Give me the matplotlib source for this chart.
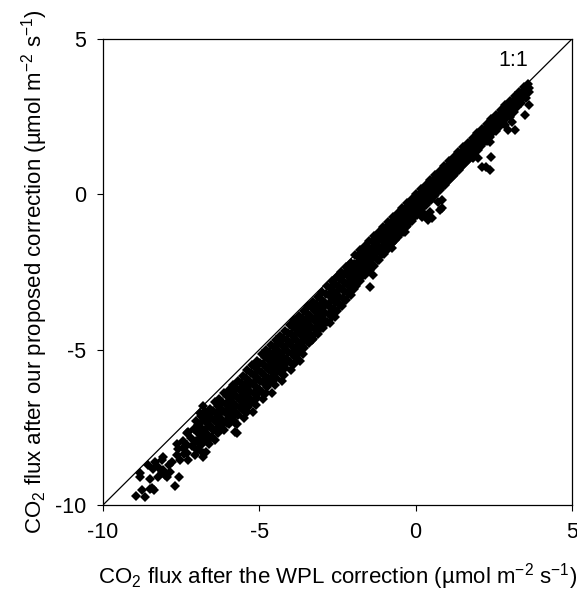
import matplotlib
matplotlib.use("Agg")
import matplotlib.pyplot as plt

plt.rcParams['font.family'] = ['Liberation Sans', 'DejaVu Sans']
plt.rcParams['mathtext.fontset'] = 'custom'
plt.rcParams['mathtext.rm'] = 'Liberation Sans'
plt.rcParams['mathtext.it'] = 'Liberation Sans:italic'
plt.rcParams['axes.unicode_minus'] = False

# sparse tail at the low end (x = WPL flux, y = proposed correction)
tail = [
    (-8.94, -9.70), (-8.66, -9.75), (-8.76, -9.52), (-8.44, -9.46), (-8.36, -9.52),
    (-8.50, -9.17), (-8.82, -9.09), (-8.82, -8.98), (-8.55, -8.71), (-8.39, -8.85),
    (-8.12, -8.93), (-8.02, -9.03), (-7.86, -8.93), (-7.70, -9.39), (-7.56, -9.11),
    (-8.12, -8.55), (-8.07, -8.46), (-7.64, -8.04), (-7.32, -7.67), (-6.95, -7.42),
    (-6.90, -7.05), (-6.81, -6.81), (-6.79, -8.31), (-8.34, -8.60), (-8.23, -8.77),
    (-8.07, -8.87), (-7.80, -8.60), (-7.64, -8.39), (-7.54, -8.55), (-7.43, -8.17),
    (-7.32, -8.07), (-7.27, -7.64), (-7.32, -8.34), (-7.27, -8.55), (-7.00, -8.23),
    (-6.79, -8.44), (-6.79, -7.10), (-7.96, -9.09), (-8.50, -9.49), (-7.45, -7.95),
    (-7.40, -8.35), (-7.20, -7.85), (-7.15, -8.10), (-7.10, -7.55), (-7.05, -8.40),
    (-7.60, -8.20), (-7.90, -8.70), (-8.25, -9.10),
]

lower_band = [
    (-7.03, -7.30), (-6.98, -7.65), (-7.01, -7.95), (-6.97, -8.20),
    (-6.88, -7.15), (-6.83, -7.55), (-6.86, -7.80), (-6.82, -8.05),
    (-6.73, -7.00), (-6.68, -7.35), (-6.71, -7.70), (-6.67, -7.95), (-6.72, -8.30),
    (-6.58, -6.90), (-6.53, -7.20), (-6.56, -7.50), (-6.52, -7.80),
    (-6.43, -6.70), (-6.38, -7.05), (-6.41, -7.30), (-6.37, -7.60), (-6.42, -7.90),
    (-6.28, -6.60), (-6.23, -6.90), (-6.26, -7.20), (-6.22, -7.45),
    (-6.13, -6.40), (-6.08, -6.75), (-6.11, -7.00), (-6.07, -7.30), (-6.12, -7.60),
    (-5.98, -6.30), (-5.93, -6.60), (-5.96, -6.90), (-5.92, -7.15), (-5.97, -7.40),
    (-5.83, -6.15), (-5.78, -6.45), (-5.81, -6.75), (-5.77, -7.00), (-5.82, -7.30), (-5.79, -7.65),
    (-5.68, -6.00), (-5.63, -6.30), (-5.66, -6.60), (-5.62, -6.85), (-5.67, -7.10),
    (-5.53, -5.85), (-5.48, -6.15), (-5.51, -6.45), (-5.47, -6.70), (-5.52, -6.95), (-5.49, -7.20),
    (-5.38, -5.65), (-5.33, -6.00), (-5.36, -6.30), (-5.32, -6.55), (-5.37, -6.85),
    (-5.23, -5.50), (-5.18, -5.80), (-5.21, -6.10), (-5.17, -6.40), (-5.22, -6.70), (-5.19, -7.00),
    (-5.08, -5.35), (-5.03, -5.65), (-5.06, -5.95), (-5.02, -6.25), (-5.07, -6.55),
]

lower_band_fill = [
    (-6.93, -7.40), (-6.91, -7.72), (-6.94, -8.00),
    (-6.78, -7.27), (-6.76, -7.60), (-6.79, -7.85),
    (-6.63, -7.10), (-6.61, -7.45), (-6.64, -7.75), (-6.62, -8.05),
    (-6.48, -6.97), (-6.46, -7.27), (-6.49, -7.57),
    (-6.33, -6.80), (-6.31, -7.10), (-6.34, -7.37), (-6.32, -7.67),
    (-6.18, -6.67), (-6.16, -6.97), (-6.19, -7.25),
    (-6.03, -6.50), (-6.01, -6.80), (-6.04, -7.07), (-6.02, -7.37),
    (-5.88, -6.37), (-5.86, -6.67), (-5.89, -6.95), (-5.87, -7.20),
    (-5.73, -6.22), (-5.71, -6.52), (-5.74, -6.80), (-5.72, -7.07), (-5.70, -7.40),
    (-5.58, -6.07), (-5.56, -6.37), (-5.59, -6.65), (-5.57, -6.90),
    (-5.43, -5.92), (-5.41, -6.22), (-5.44, -6.50), (-5.42, -6.75), (-5.40, -7.00),
    (-5.28, -5.75), (-5.26, -6.07), (-5.29, -6.35), (-5.27, -6.62),
    (-5.13, -5.57), (-5.11, -5.87), (-5.14, -6.17), (-5.12, -6.47), (-5.10, -6.77),
    (-4.98, -5.42), (-4.96, -5.72), (-4.99, -6.02), (-4.97, -6.32),
]

middle_band = [
    (-4.93, -5.15), (-4.88, -5.45), (-4.91, -5.75), (-4.87, -6.05), (-4.92, -6.35), (-4.89, -6.60),
    (-4.78, -5.00), (-4.73, -5.30), (-4.76, -5.60), (-4.72, -5.90), (-4.77, -6.20),
    (-4.63, -4.85), (-4.58, -5.15), (-4.61, -5.45), (-4.57, -5.75), (-4.62, -6.05), (-4.59, -6.40),
    (-4.48, -4.70), (-4.43, -5.00), (-4.46, -5.30), (-4.42, -5.60), (-4.47, -5.90),
    (-4.33, -4.55), (-4.28, -4.85), (-4.31, -5.15), (-4.27, -5.45), (-4.32, -5.75), (-4.29, -6.00),
    (-4.18, -4.40), (-4.13, -4.70), (-4.16, -5.00), (-4.12, -5.30), (-4.17, -5.60),
    (-4.03, -4.20), (-3.98, -4.50), (-4.01, -4.80), (-3.97, -5.10), (-4.02, -5.40), (-3.99, -5.65),
    (-3.88, -4.05), (-3.83, -4.35), (-3.86, -4.65), (-3.82, -4.95), (-3.87, -5.25),
    (-3.73, -3.90), (-3.68, -4.20), (-3.71, -4.50), (-3.67, -4.80), (-3.72, -5.10), (-3.69, -5.35),
    (-3.58, -3.75), (-3.53, -4.05), (-3.56, -4.35), (-3.52, -4.65), (-3.57, -4.95),
    (-3.43, -3.60), (-3.38, -3.90), (-3.41, -4.20), (-3.37, -4.50), (-3.42, -4.80),
    (-3.28, -3.45), (-3.23, -3.75), (-3.26, -4.05), (-3.22, -4.35), (-3.27, -4.65),
    (-3.13, -3.30), (-3.08, -3.60), (-3.11, -3.90), (-3.07, -4.20), (-3.12, -4.50),
    (-2.98, -3.15), (-2.93, -3.45), (-2.96, -3.75), (-2.92, -4.05), (-2.97, -4.30),
    (-2.83, -2.95), (-2.78, -3.25), (-2.81, -3.55), (-2.77, -3.85), (-2.82, -4.10),
    (-2.68, -2.80), (-2.63, -3.10), (-2.66, -3.40), (-2.62, -3.70), (-2.67, -3.95),
    (-2.53, -2.65), (-2.48, -2.95), (-2.51, -3.25), (-2.47, -3.50), (-2.52, -3.75),
    (-2.38, -2.50), (-2.33, -2.80), (-2.36, -3.05), (-2.32, -3.35), (-2.37, -3.60),
    (-2.23, -2.35), (-2.18, -2.60), (-2.21, -2.90), (-2.17, -3.15), (-2.22, -3.40),
    (-2.08, -2.20), (-2.03, -2.45), (-2.06, -2.75), (-2.02, -3.00), (-2.07, -3.25),
    (-1.93, -1.95), (-1.88, -2.20), (-1.91, -2.45), (-1.87, -2.70), (-1.92, -2.95),
    (-1.78, -1.80), (-1.73, -2.05), (-1.76, -2.30), (-1.72, -2.55), (-1.77, -2.80),
    (-1.63, -1.65), (-1.58, -1.90), (-1.61, -2.15), (-1.57, -2.40), (-1.62, -2.60),
    (-1.48, -1.50), (-1.43, -1.75), (-1.46, -2.00), (-1.42, -2.25), (-1.47, -2.45),
    (-1.33, -1.35), (-1.28, -1.60), (-1.31, -1.85), (-1.27, -2.05), (-1.32, -2.30),
    (-1.18, -1.20), (-1.13, -1.45), (-1.16, -1.70), (-1.12, -1.90), (-1.17, -2.10),
    (-1.03, -1.05), (-0.98, -1.28), (-1.01, -1.50), (-0.97, -1.72), (-1.02, -1.92),
    (-0.88, -0.90), (-0.83, -1.12), (-0.86, -1.33), (-0.82, -1.55), (-0.87, -1.75),
    (-0.73, -0.74), (-0.68, -0.95), (-0.71, -1.16), (-0.67, -1.37), (-0.72, -1.55),
    (-0.58, -0.59), (-0.53, -0.80), (-0.56, -1.00), (-0.52, -1.20), (-0.57, -1.38),
    (-0.43, -0.44), (-0.38, -0.64), (-0.41, -0.84), (-0.37, -1.03), (-0.42, -1.20),
    (-0.28, -0.29), (-0.23, -0.48), (-0.26, -0.68), (-0.22, -0.86), (-0.27, -1.02),
    (-0.13, -0.14), (-0.08, -0.33), (-0.11, -0.52), (-0.07, -0.70), (-0.12, -0.85),
    (0.02, 0.01), (0.07, -0.18), (0.04, -0.36), (0.08, -0.54), (0.03, -0.68),
]

middle_band_fill = [
    (-4.83, -5.22), (-4.81, -5.52), (-4.84, -5.82), (-4.82, -6.12), (-4.80, -6.40),
    (-4.68, -5.07), (-4.66, -5.37), (-4.69, -5.67), (-4.67, -5.97),
    (-4.53, -4.92), (-4.51, -5.22), (-4.54, -5.52), (-4.52, -5.82), (-4.50, -6.15),
    (-4.38, -4.77), (-4.36, -5.07), (-4.39, -5.37), (-4.37, -5.67),
    (-4.23, -4.62), (-4.21, -4.92), (-4.24, -5.22), (-4.22, -5.52), (-4.20, -5.80),
    (-4.08, -4.47), (-4.06, -4.77), (-4.09, -5.07), (-4.07, -5.37),
    (-3.93, -4.27), (-3.91, -4.57), (-3.94, -4.87), (-3.92, -5.17), (-3.90, -5.45),
    (-3.78, -4.12), (-3.76, -4.42), (-3.79, -4.72), (-3.77, -5.02),
    (-3.63, -3.97), (-3.61, -4.27), (-3.64, -4.57), (-3.62, -4.87), (-3.60, -5.15),
    (-3.48, -3.82), (-3.46, -4.12), (-3.49, -4.42), (-3.47, -4.72),
    (-3.33, -3.67), (-3.31, -3.97), (-3.34, -4.27), (-3.32, -4.57),
    (-3.18, -3.52), (-3.16, -3.82), (-3.19, -4.12), (-3.17, -4.42),
    (-3.03, -3.37), (-3.01, -3.67), (-3.04, -3.97), (-3.02, -4.27),
    (-2.88, -3.22), (-2.86, -3.52), (-2.89, -3.82), (-2.87, -4.10),
    (-2.73, -3.02), (-2.71, -3.32), (-2.74, -3.62), (-2.72, -3.90),
    (-2.58, -2.87), (-2.56, -3.17), (-2.59, -3.47), (-2.57, -3.75),
    (-2.43, -2.72), (-2.41, -3.02), (-2.44, -3.30), (-2.42, -3.55),
    (-2.28, -2.57), (-2.26, -2.85), (-2.29, -3.12), (-2.27, -3.40),
    (-2.13, -2.40), (-2.11, -2.67), (-2.14, -2.95), (-2.12, -3.20),
    (-1.98, -2.25), (-1.96, -2.52), (-1.99, -2.80), (-1.97, -3.05),
    (-1.83, -2.00), (-1.81, -2.25), (-1.84, -2.50), (-1.82, -2.75),
    (-1.68, -1.85), (-1.66, -2.10), (-1.69, -2.35), (-1.67, -2.60),
    (-1.53, -1.70), (-1.51, -1.95), (-1.54, -2.20), (-1.52, -2.42),
    (-1.38, -1.55), (-1.36, -1.80), (-1.39, -2.05), (-1.37, -2.27),
    (-1.23, -1.40), (-1.21, -1.65), (-1.24, -1.87), (-1.22, -2.10),
    (-1.08, -1.25), (-1.06, -1.50), (-1.09, -1.72), (-1.07, -1.92),
    (-0.93, -1.09), (-0.91, -1.31), (-0.94, -1.54), (-0.92, -1.75),
    (-0.78, -0.94), (-0.76, -1.15), (-0.79, -1.37), (-0.77, -1.58),
    (-0.63, -0.77), (-0.61, -0.98), (-0.64, -1.19), (-0.62, -1.39),
    (-0.48, -0.62), (-0.46, -0.82), (-0.49, -1.02), (-0.47, -1.22),
    (-0.33, -0.47), (-0.31, -0.67), (-0.34, -0.86), (-0.32, -1.04),
    (-0.18, -0.31), (-0.16, -0.51), (-0.19, -0.70), (-0.17, -0.87),
    (-0.03, -0.16), (-0.01, -0.35), (-0.04, -0.54), (-0.02, -0.70),
    (0.12, -0.01), (0.14, -0.20), (0.11, -0.38), (0.13, -0.54),
]

upper_band = [
    (0.17, 0.16), (0.22, -0.02), (0.19, -0.20), (0.23, -0.36), (0.18, -0.50),
    (0.32, 0.31), (0.37, 0.13), (0.34, -0.04), (0.38, -0.20), (0.33, -0.34),
    (0.47, 0.46), (0.52, 0.28), (0.49, 0.11), (0.53, -0.05), (0.48, -0.18),
    (0.62, 0.61), (0.67, 0.44), (0.64, 0.27), (0.68, 0.11), (0.63, -0.02),
    (0.77, 0.76), (0.82, 0.59), (0.79, 0.42), (0.83, 0.27), (0.78, 0.14),
    (0.92, 0.91), (0.97, 0.74), (0.94, 0.57), (0.98, 0.42), (0.93, 0.30),
    (1.07, 1.06), (1.12, 0.89), (1.09, 0.73), (1.13, 0.58), (1.08, 0.46),
    (1.22, 1.21), (1.27, 1.05), (1.24, 0.89), (1.28, 0.74), (1.23, 0.62),
    (1.37, 1.36), (1.42, 1.20), (1.39, 1.04), (1.43, 0.90), (1.38, 0.78),
    (1.52, 1.51), (1.57, 1.35), (1.54, 1.20), (1.58, 1.06), (1.53, 0.95),
    (1.67, 1.66), (1.72, 1.50), (1.69, 1.35), (1.73, 1.21), (1.68, 1.10),
    (1.82, 1.81), (1.87, 1.65), (1.84, 1.51), (1.88, 1.37), (1.83, 1.26),
    (1.97, 1.96), (2.02, 1.80), (1.99, 1.66), (2.03, 1.53), (1.98, 1.42),
    (2.12, 2.11), (2.17, 1.96), (2.14, 1.82), (2.18, 1.69),
    (2.27, 2.26), (2.32, 2.11), (2.29, 1.97), (2.33, 1.84), (2.28, 1.72),
    (2.42, 2.41), (2.47, 2.26), (2.44, 2.13), (2.48, 2.00),
    (2.57, 2.56), (2.62, 2.42), (2.59, 2.29), (2.63, 2.16), (2.58, 2.05),
    (2.72, 2.71), (2.77, 2.57), (2.74, 2.44), (2.78, 2.32),
    (2.87, 2.86), (2.92, 2.72), (2.89, 2.60), (2.93, 2.48),
    (3.02, 3.01), (3.07, 2.88), (3.04, 2.76), (3.08, 2.64), (3.03, 2.50),
    (3.17, 3.16), (3.22, 3.03), (3.19, 2.91), (3.23, 2.80),
    (3.32, 3.31), (3.37, 3.19), (3.34, 3.07), (3.38, 2.95),
    (3.47, 3.44), (3.52, 3.33), (3.49, 3.22), (3.53, 3.10),
    (3.59, 3.55), (3.64, 3.42), (3.61, 3.30),
]

upper_band_fill = [
    (0.27, 0.15), (0.29, -0.04), (0.26, -0.21), (0.28, -0.36),
    (0.42, 0.30), (0.44, 0.12), (0.41, -0.05), (0.43, -0.20),
    (0.57, 0.45), (0.59, 0.27), (0.56, 0.10), (0.58, -0.04),
    (0.72, 0.60), (0.74, 0.43), (0.71, 0.27), (0.73, 0.12),
    (0.87, 0.75), (0.89, 0.58), (0.86, 0.42), (0.88, 0.28),
    (1.02, 0.90), (1.04, 0.73), (1.01, 0.57), (1.03, 0.44),
    (1.17, 1.05), (1.19, 0.89), (1.16, 0.73), (1.18, 0.60),
    (1.32, 1.20), (1.34, 1.04), (1.31, 0.89), (1.33, 0.76),
    (1.47, 1.35), (1.49, 1.19), (1.46, 1.04), (1.48, 0.92),
    (1.62, 1.50), (1.64, 1.35), (1.61, 1.20), (1.63, 1.08),
    (1.77, 1.65), (1.79, 1.50), (1.76, 1.35), (1.78, 1.23),
    (1.92, 1.80), (1.94, 1.65), (1.91, 1.51), (1.93, 1.39),
    (2.07, 1.95), (2.09, 1.80), (2.06, 1.67), (2.08, 1.55),
    (2.22, 2.11), (2.24, 1.96), (2.21, 1.83),
    (2.37, 2.26), (2.39, 2.11), (2.36, 1.98), (2.38, 1.85),
    (2.52, 2.41), (2.54, 2.27), (2.51, 2.14),
    (2.67, 2.56), (2.69, 2.43), (2.66, 2.30), (2.68, 2.18),
    (2.82, 2.71), (2.84, 2.58), (2.81, 2.45),
    (2.97, 2.86), (2.99, 2.73), (2.96, 2.61),
    (3.12, 3.02), (3.14, 2.89), (3.11, 2.77), (3.13, 2.64),
    (3.27, 3.17), (3.29, 3.04), (3.26, 2.93),
    (3.42, 3.32), (3.44, 3.20), (3.41, 3.08),
    (3.55, 3.45), (3.57, 3.35), (3.54, 3.23),
]

outliers = [
    (2.26, 0.89), (2.42, 1.21), (2.37, 0.78), (1.99, 1.16), (0.84, -0.18),
    (0.84, -0.45), (0.51, -0.77), (0.45, -0.56), (0.29, -0.66), (3.19, 2.07),
    (3.08, 2.34), (3.51, 2.55), (3.62, 2.88), (2.11, 0.89), (1.84, 1.16),
    (2.96, 2.07), (2.86, 2.23), (2.38, 1.69), (0.19, -0.72), (0.40, -0.83),
    (-0.77, -1.74), (-0.34, -1.20), (-1.36, -2.60), (-1.46, -2.97), (0.78, -0.50),
    (0.72, -0.24), (-0.66, -1.47), (-2.58, -3.94), (-2.74, -4.15), (-3.06, -4.31),
    (-3.33, -4.69), (-5.72, -7.69), (-5.78, -7.37), (-4.55, -5.98),
]

axis_min, axis_max = -10, 5
ticks = [-10, -5, 0, 5]

fig = plt.figure(figsize=(5.77, 5.91), dpi=100)
ax = fig.add_axes([0.1785, 0.1455, 0.8128, 0.7885])

ax.plot([axis_min, axis_max], [axis_min, axis_max], color='black', lw=0.9)

groups = (tail, lower_band, lower_band_fill, middle_band, middle_band_fill,
          upper_band, upper_band_fill, outliers)
for group in groups:
    xs, ys = zip(*group)
    ax.plot(xs, ys, 'D', color='black', ms=5.4, mew=0, linestyle='none')

ax.text(3.13, 4.31, '1:1', fontsize=15.5, ha='center', va='center')

ax.set_xlim(axis_min, axis_max)
ax.set_ylim(axis_min, axis_max)
ax.set_xticks(ticks)
ax.set_yticks(ticks)
ax.tick_params(direction='out', length=4, width=0.8, labelsize=15.5, pad=8)
for s in ax.spines.values():
    s.set_linewidth(0.9)

ax.set_xlabel('CO$_2$ flux after the WPL correction (µmol m$^{-2}$ s$^{-1}$)',
              fontsize=16, labelpad=13)
ax.set_ylabel('CO$_2$ flux after our proposed correction (µmol m$^{-2}$ s$^{-1}$)',
              fontsize=16, labelpad=4)

fig.savefig('out.png', dpi=100)
